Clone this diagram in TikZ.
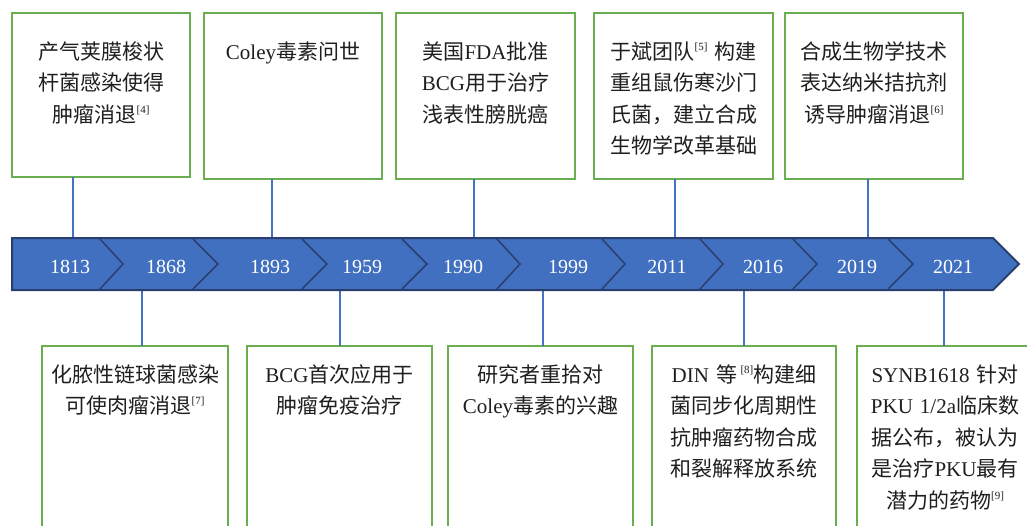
\documentclass[tikz,border=0pt]{standalone}
\usepackage{fontspec}
\setmainfont{Liberation Serif}
\newfontfamily\cjk{Noto Sans CJK SC}
\usetikzlibrary{calc}
\definecolor{boxgreen}{HTML}{6BAE4F}
\definecolor{linkblue}{HTML}{4472C4}
\definecolor{barblue}{HTML}{4170C0}
\definecolor{barnavy}{HTML}{2B3F6E}
\newcommand\latn[1]{{\rmfamily #1}}
\newcommand\refmark[1]{\raisebox{0.42em}{\fontsize{11}{11}\selectfont\rmfamily[#1]}}
\tikzset{
  evbox/.style={draw=boxgreen, line width=2.5pt, fill=white, rectangle, inner sep=0pt, outer sep=0pt, anchor=north west},
  evtext/.style={anchor=base, inner sep=0pt, align=center, text width=182pt, font=\cjk\fontsize{21}{31.5}\selectfont, text=black!88},
  yearlbl/.style={text=white, font=\fontsize{20}{24}\selectfont, inner sep=0pt},
  conn/.style={draw=linkblue, line width=1.3pt},
  bar/.style={fill=barblue, draw=barnavy, line width=2pt, line join=miter},
  chev/.style={draw=barnavy, line width=1.5pt}
}
\begin{document}
\begin{tikzpicture}[x=1pt,y=-1pt]
\useasboundingbox (0,0) rectangle (1027,525);
\clip (0,0) rectangle (1027,525);
\fill[white] (0,0) rectangle (1027,525);

% top boxes
\node[evbox, minimum width=178pt, minimum height=164pt] (t1) at (12,13) {};
\node[evbox, minimum width=178pt, minimum height=166pt] (t2) at (204,13) {};
\node[evbox, minimum width=179pt, minimum height=166pt] (t3) at (396,13) {};
\node[evbox, minimum width=179pt, minimum height=166pt] (t4) at (594,13) {};
\node[evbox, minimum width=178pt, minimum height=166pt] (t5) at (785,13) {};

% bottom boxes
\node[evbox, minimum width=186pt, minimum height=230pt] (b1) at (42,346) {};
\node[evbox, minimum width=185pt, minimum height=230pt] (b2) at (247,346) {};
\node[evbox, minimum width=185pt, minimum height=230pt] (b3) at (448,346) {};
\node[evbox, minimum width=184pt, minimum height=230pt] (b4) at (652,346) {};
\node[evbox, minimum width=176pt, minimum height=230pt] (b5) at (857,346) {};

% texts
\node[evtext] (t1x) at (t1.north |- 0,59) {产气荚膜梭状\\杆菌感染使得\\肿瘤消退\refmark{4}};
\node[evtext] (t2x) at (t2.north |- 0,59) {\latn{Coley}毒素问世};
\node[evtext] (t3x) at (t3.north |- 0,59) {美国\latn{FDA}批准\\\latn{BCG}用于治疗\\浅表性膀胱癌};
\node[evtext] (t4x) at (t4.north |- 0,59) {于斌团队\refmark{5} 构建\\重组鼠伤寒沙门\\氏菌，建立合成\\生物学改革基础};
\node[evtext] (t5x) at (t5.north |- 0,59) {合成生物学技术\\表达纳米拮抗剂\\诱导肿瘤消退\refmark{6}};

\node[evtext] (b1x) at (b1.north |- 0,382) {化脓性链球菌感染\\可使肉瘤消退\refmark{7}};
\node[evtext] (b2x) at (b2.north |- 0,382) {\latn{BCG}首次应用于\\肿瘤免疫治疗};
\node[evtext] (b3x) at (b3.north |- 0,382) {研究者重拾对\\\latn{Coley}毒素的兴趣};
\node[evtext] (b4x) at (b4.north |- 0,382) {\latn{DIN} 等\,\refmark{8}构建细\\菌同步化周期性\\抗肿瘤药物合成\\和裂解释放系统};
\node[evtext] (b5x) at (945,382) {\latn{SYNB1618} 针对\\\latn{PKU 1/2a}临床数\\据公布，被认为\\是治疗\latn{PKU}最有\\潜力的药物\refmark{9}};

% connector points on the bar
\coordinate (p1) at (73,238);
\coordinate (p2) at (272,238);
\coordinate (p3) at (474,238);
\coordinate (p4) at (675,238);
\coordinate (p5) at (868,238);
\coordinate (q1) at (142,290);
\coordinate (q2) at (340,290);
\coordinate (q3) at (543,290);
\coordinate (q4) at (744,290);
\coordinate (q5) at (944,290);

\draw[conn] (t1.south -| p1) -- (p1);
\draw[conn] (t2.south -| p2) -- (p2);
\draw[conn] (t3.south -| p3) -- (p3);
\draw[conn] (t4.south -| p4) -- (p4);
\draw[conn] (t5.south -| p5) -- (p5);
\draw[conn] (q1) -- (b1.north -| q1);
\draw[conn] (q2) -- (b2.north -| q2);
\draw[conn] (q3) -- (b3.north -| q3);
\draw[conn] (q4) -- (b4.north -| q4);
\draw[conn] (q5) -- (b5.north -| q5);

% timeline bar
\draw[bar] (12,238) -- (993,238) -- (1019,264) -- (993,290) -- (12,290) -- cycle;
\foreach \a/\b in {100/123,193/218,302/327,402/427,497/520,602/625,700/723,793/817,888/913}
  \draw[chev] (\a,239) -- (\b,264) -- (\a,289);

% years
\node[yearlbl] (y1) at (70,267) {1813};
\node[yearlbl] (y2) at (166,267) {1868};
\node[yearlbl] (y3) at (270,267) {1893};
\node[yearlbl] (y4) at (362,267) {1959};
\node[yearlbl] (y5) at (463,267) {1990};
\node[yearlbl] (y6) at (568,267) {1999};
\node[yearlbl] (y7) at (667,267) {2011};
\node[yearlbl] (y8) at (763,267) {2016};
\node[yearlbl] (y9) at (857,267) {2019};
\node[yearlbl] (y10) at (953,267) {2021};
\end{tikzpicture}
\end{document}
